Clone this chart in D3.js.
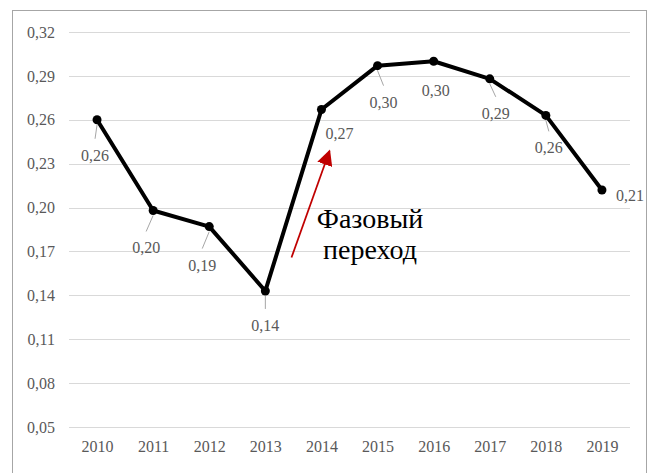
<!DOCTYPE html>
<html>
<head>
<meta charset="utf-8">
<script src="https://cdn.jsdelivr.net/npm/d3@7"></script>
</head>
<body style="margin:0;background:#fff">
<script>
(function(){

//data
var years = ["2010","2011","2012","2013","2014","2015","2016","2017","2018","2019"];
var values = [0.260, 0.198, 0.187, 0.143, 0.267, 0.297, 0.300, 0.288, 0.263, 0.212];
var yTicks = [0.05, 0.08, 0.11, 0.14, 0.17, 0.20, 0.23, 0.26, 0.29, 0.32];
var noteLines = ["Фазовый", "переход"];

//label placement relative to each point (dx, dy) and whether a leader line is drawn
var labelOffsets = [[-2,41],[-7,43],[-7,44],[0,40],[18,29],[6,42],[2,35],[6,40],[3,38],[28,11]];
var leaders = [true, true, true, true, false, true, false, true, true, false];

var serif = "Liberation Serif";

window.onload = setChart();

function setChart(){
	var width = 656,
		height = 473;

	var svg = d3.select("body")
		.append("svg")
		.attr("width", width)
		.attr("height", height)
		.attr("font-family", serif)
		.style("display", "block");

	//outer frame
	svg.append("rect")
		.attr("x", 12.5)
		.attr("y", 10.5)
		.attr("width", 634)
		.attr("height", 480)
		.style("fill", "#fff")
		.style("stroke", "#a6a6a6")
		.style("stroke-width", 1);

	var x = d3.scalePoint()
		.domain(years)
		.range([69, 630])
		.padding(0.5);

	var y = d3.scaleLinear()
		.domain([0.05, 0.32])
		.range([427, 32]);

	var fmt = function(v){ return d3.format(".2f")(v).replace(".", ","); };

	//horizontal gridlines
	svg.append("g")
		.selectAll("line")
		.data(yTicks)
		.enter()
		.append("line")
		.attr("x1", 69)
		.attr("x2", 630)
		.attr("y1", function(d){ return Math.round(y(d)) + 0.5; })
		.attr("y2", function(d){ return Math.round(y(d)) + 0.5; })
		.style("stroke", "#d9d9d9")
		.style("stroke-width", 1);

	//y axis labels
	var yAxis = d3.axisLeft(y)
		.tickValues(yTicks)
		.tickFormat(fmt)
		.tickSize(0)
		.tickPadding(14);

	var yg = svg.append("g")
		.attr("transform", "translate(69,0)")
		.call(yAxis)
		.attr("font-family", serif)
		.attr("font-size", 16);
	yg.select(".domain").remove();

	//x axis labels
	var xAxis = d3.axisBottom(x)
		.tickSize(0)
		.tickPadding(10);

	var xg = svg.append("g")
		.attr("transform", "translate(0,431)")
		.call(xAxis)
		.attr("font-family", serif)
		.attr("font-size", 16);
	xg.select(".domain").remove();

	svg.selectAll(".tick text")
		.style("fill", "#595959");

	var points = years.map(function(yr, i){
		return { year: yr, value: values[i], off: labelOffsets[i], leader: leaders[i] };
	});

	//leader lines
	svg.selectAll(".leader")
		.data(points.filter(function(d){ return d.leader; }))
		.enter()
		.append("line")
		.attr("class", "leader")
		.attr("x1", function(d){ return x(d.year); })
		.attr("y1", function(d){ return y(d.value) + 5; })
		.attr("x2", function(d){ return x(d.year) + d.off[0]; })
		.attr("y2", function(d){ return y(d.value) + d.off[1] - 22; })
		.style("stroke", "#a6a6a6")
		.style("stroke-width", 1);

	//main line
	var line = d3.line()
		.x(function(d){ return x(d.year); })
		.y(function(d){ return y(d.value); });

	svg.append("path")
		.datum(points)
		.attr("d", line)
		.style("fill", "none")
		.style("stroke", "#000")
		.style("stroke-width", 4)
		.style("stroke-linejoin", "round");

	//markers
	svg.selectAll(".marker")
		.data(points)
		.enter()
		.append("circle")
		.attr("class", "marker")
		.attr("cx", function(d){ return x(d.year); })
		.attr("cy", function(d){ return y(d.value); })
		.attr("r", 4.5)
		.style("fill", "#000");

	//data labels
	svg.selectAll(".dataLabel")
		.data(points)
		.enter()
		.append("text")
		.attr("class", "dataLabel")
		.attr("x", function(d){ return x(d.year) + d.off[0]; })
		.attr("y", function(d){ return y(d.value) + d.off[1]; })
		.attr("text-anchor", function(d, i){ return i == points.length - 1 ? "start" : "middle"; })
		.attr("dx", function(d, i){ return i == points.length - 1 ? -14 : 0; })
		.attr("font-family", serif)
		.attr("font-size", 16)
		.attr("fill", "#595959")
		.text(function(d){ return fmt(d.value); });

	//red arrow annotation
	var defs = svg.append("defs");
	defs.append("marker")
		.attr("id", "arrow")
		.attr("viewBox", "0 0 10 10")
		.attr("refX", 9)
		.attr("refY", 5)
		.attr("markerWidth", 9)
		.attr("markerHeight", 9)
		.attr("markerUnits", "strokeWidth")
		.attr("orient", "auto")
		.append("path")
		.attr("d", "M0,0 L10,5 L0,10 Z")
		.style("fill", "#c00000");

	svg.append("line")
		.attr("x1", 291.5)
		.attr("y1", 257.5)
		.attr("x2", 329.5)
		.attr("y2", 151)
		.style("stroke", "#c00000")
		.style("stroke-width", 1.75)
		.attr("marker-end", "url(#arrow)");

	svg.selectAll(".note")
		.data(noteLines)
		.enter()
		.append("text")
		.attr("class", "note")
		.attr("x", 370)
		.attr("y", function(d, i){ return 228 + i * 31; })
		.attr("text-anchor", "middle")
		.attr("font-family", serif)
		.attr("font-size", 28)
		.attr("fill", "#000")
		.text(function(d){ return d; });
}

})();
</script>
</body>
</html>
